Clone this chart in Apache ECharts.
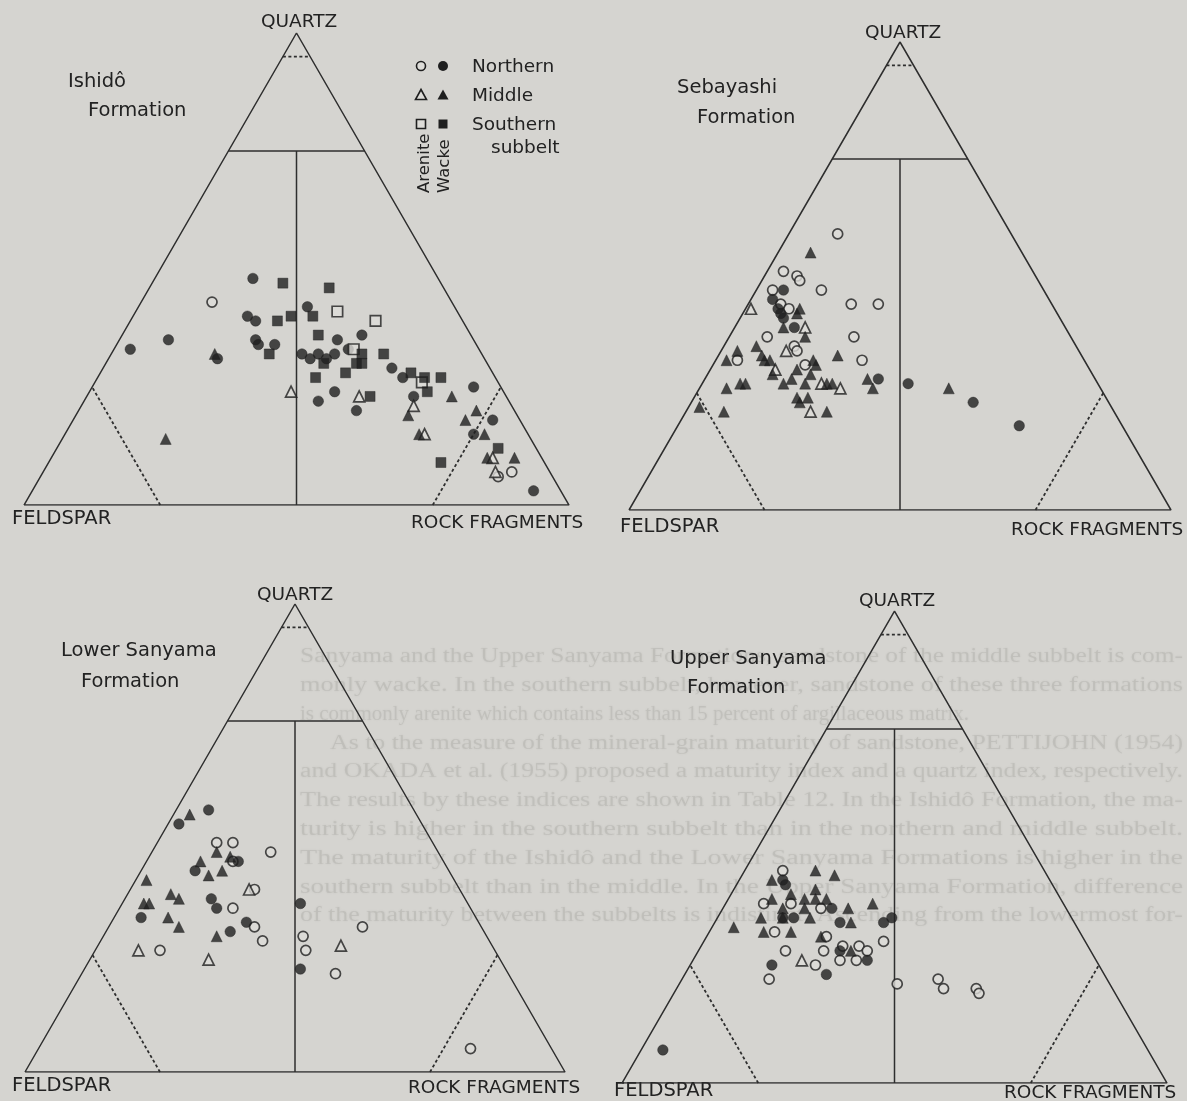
<!DOCTYPE html>
<html><head><meta charset="utf-8">
<script src="https://cdn.jsdelivr.net/npm/echarts@6/dist/echarts.min.js"></script>
<style>html,body{margin:0;padding:0;background:#d5d4d0}#c{width:1187px;height:1101px}</style>
</head><body><div id="c"></div><script>
// Each point: [Quartz %, Rock fragments %]; Feldspar % = 100 - Q - R
const ishidoNorthArenite = [[43,13],[6,84],[7,86]];
const ishidoNorthWacke = [[48,18],[42,31],[40,21],[39,23],[33,3],[35,9],[31,20],[35,25],[34,26],[34,29],[35,40],[36,44],[32,35],[31,37],[32,38],[31,40],[32,41],[33,43],[24,45],[22,43],[20,51],[29,53],[27,56],[25,70],[18,77],[15,75],[3,92],[23,60]];
const ishidoMiddleArenite = [[24,37],[23,50],[21,61],[15,66],[10,81],[7,83]];
const ishidoMiddleWacke = [[32,19],[14,19],[19,61],[23,67],[20,73],[18,72],[15,77],[15,65],[10,85],[10,80]];
const ishidoSouthArenite = [[41,37],[39,45],[33,44],[26,60]];
const ishidoSouthWacke = [[47,24],[46,33],[40,33],[39,27],[40,29],[32,29],[36,36],[30,40],[27,40],[28,45],[30,46],[30,47],[32,46],[32,50],[28,57],[27,60],[27,63],[24,62],[23,52],[12,81],[9,72]];

const sebaNorthArenite = [[59,9],[51,3],[50,6],[49,7],[47,3],[47,12],[44,19],[44,24],[44,6],[43,8],[37,7],[37,23],[35,13],[34,14],[32,4],[31,17],[32,27]];
const sebaNorthWacke = [[47,5],[45,4],[42,7],[41,8],[39,11],[43,6],[28,32],[27,38],[23,52],[18,63]];
const sebaMiddleArenite = [[43,1],[39,13],[34,12],[30,12],[27,22],[26,26],[21,23]];
const sebaMiddleWacke = [[55,6],[43,10],[42,10],[39,9],[37,14],[33,22],[34,3],[32,2],[35,6],[33,8],[32,9],[32,10],[32,18],[31,19],[30,16],[29,19],[29,12],[28,16],[27,15],[27,19],[26,5],[27,7],[27,8],[27,23],[27,24],[28,30],[26,32],[24,19],[23,20],[24,21],[22,2],[21,7],[21,26],[26,46]];

const lowerNorthArenite = [[49,11],[49,14],[47,22],[45,16],[39,23],[35,21],[31,47],[29,37],[26,39],[21,47],[5,80],[31,27],[28,30],[26,12]];
const lowerNorthWacke = [[56,6],[53,2],[43,10],[45,17],[37,16],[35,18],[36,33],[22,40],[32,25],[30,23],[33,5]];
const lowerMiddleArenite = [[39,22],[27,45],[26,8],[24,22]];
const lowerMiddleWacke = [[55,3],[47,12],[46,15],[45,10],[42,13],[43,15],[41,2],[38,8],[37,10],[36,4],[36,5],[33,10],[31,13],[29,21]];

const upperNorthArenite = [[45,7],[38,7],[38,12],[37,18],[32,12],[31,22],[30,33],[28,16],[28,23],[29,26],[29,29],[28,31],[26,27],[26,30],[25,23],[22,16],[21,40],[22,47],[20,49],[20,55],[19,56]];
const upperNorthWacke = [[43,8],[42,9],[35,14],[35,12],[37,20],[34,23],[34,31],[35,32],[28,26],[26,32],[25,15],[23,26],[7,4]];
const upperMiddleArenite = [[26,20]];
const upperMiddleWacke = [[43,6],[45,13],[44,17],[40,11],[41,15],[39,16],[39,18],[39,8],[39,14],[37,15],[37,23],[38,27],[37,11],[35,8],[35,12],[35,17],[34,25],[33,4],[32,10],[32,15],[31,21],[28,28]];

const formationNames = [['Ishidô','Formation'],['Sebayashi','Formation'],['Lower Sanyama','Formation'],['Upper Sanyama','Formation']];
const apexLabel = 'QUARTZ', leftLabel = 'FELDSPAR', rightLabel = 'ROCK FRAGMENTS';
const legendRows = ['Northern','Middle','Southern'];
// faint text of the page showing through the paper
const pageText = [
  'Sanyama and the Upper Sanyama Formations, sandstone of the middle subbelt is com-',
  'monly wacke. In the southern subbelt, however, sandstone of these three formations',
  'is commonly arenite which contains less than 15 percent of argillaceous matrix.',
  'As to the measure of the mineral-grain maturity of sandstone, PETTIJOHN (1954)',
  'and OKADA et al. (1955) proposed a maturity index and a quartz index, respectively.',
  'The results by these indices are shown in Table 12. In the Ishidô Formation, the ma-',
  'turity is higher in the southern subbelt than in the northern and middle subbelt.',
  'The maturity of the Ishidô and the Lower Sanyama Formations is higher in the',
  'southern subbelt than in the middle. In the Upper Sanyama Formation, difference',
  'of the maturity between the subbelts is indistinct. Ascending from the lowermost for-'
];

// ----- styling / layout -----
const BG = '#d5d4d0', INK = '#1f1f1f', LINE = '#2e2e2e', OF = '#dddcd8';
const FONT = '"DejaVu Sans", sans-serif';
const panels = [
  {left:24, top:33, width:545, height:472},
  {left:629, top:42, width:542, height:468},
  {left:25, top:604, width:540, height:468},
  {left:622, top:611, width:545, height:472}
];
const datasets = [
  {na:ishidoNorthArenite, nw:ishidoNorthWacke, ma:ishidoMiddleArenite, mw:ishidoMiddleWacke, sa:ishidoSouthArenite, sw:ishidoSouthWacke},
  {na:sebaNorthArenite, nw:sebaNorthWacke, ma:sebaMiddleArenite, mw:sebaMiddleWacke},
  {na:lowerNorthArenite, nw:lowerNorthWacke, ma:lowerMiddleArenite, mw:lowerMiddleWacke},
  {na:upperNorthArenite, nw:upperNorthWacke, ma:upperMiddleArenite, mw:upperMiddleWacke}
];
const toXY = ([q, r]) => [r + q / 2, q];
const symStyle = {
  na:{symbol:'circle', size:10, open:true},
  nw:{symbol:'circle', size:10.5, open:false},
  ma:{symbol:'triangle', size:11, open:true},
  mw:{symbol:'triangle', size:11, open:false},
  sa:{symbol:'rect', size:10.5, open:true},
  sw:{symbol:'rect', size:10, open:false}
};

const grid = [], xAxis = [], yAxis = [], series = [], graphic = [];
panels.forEach((p, i) => {
  grid.push({left:p.left, top:p.top, width:p.width, height:p.height});
  xAxis.push({type:'value', gridIndex:i, min:0, max:100, show:false});
  yAxis.push({type:'value', gridIndex:i, min:0, max:100, show:false});
  const seg = (pts, dashed) => series.push({
    type:'line', xAxisIndex:i, yAxisIndex:i, data:pts.map(toXY), showSymbol:false, silent:true,
    lineStyle:{color:LINE, width:dashed?1.8:1.5, type:dashed?[3,2.5]:'solid'}, z:2
  });
  seg([[0,0],[0,100],[100,0],[0,0]], false);   // outline F -> R -> Q -> F
  seg([[75,0],[75,25]], false);                  // Q = 75 %
  seg([[75,12.5],[0,50]], false);                // F:R = 1:1
  seg([[95,0],[95,5]], true);                    // Q = 95 %
  seg([[0,25],[25,0]], true);                    // F = 75 %
  seg([[0,75],[25,75]], true);                   // R = 75 %
  const d = datasets[i];
  Object.keys(d).forEach(k => {
    const s = symStyle[k];
    series.push({
      type:'scatter', xAxisIndex:i, yAxisIndex:i, data:d[k].map(toXY), symbol:s.symbol, symbolSize:s.size, z:3,
      itemStyle: s.open ? {color:OF, borderColor:INK, borderWidth:1.7} : {color:INK, borderColor:INK, borderWidth:0.5}
    });
  });
});

// background page text, stretched to the justified line width
const meas = document.createElement('canvas').getContext('2d');
const PFONT = '20px "Liberation Serif", serif';
meas.font = PFONT;
const lineSpecs = [[300,1183],[300,1183],[300,null],[330,1183],[300,1183],[300,1183],[300,1183],[300,1183],[300,1183],[300,1183]];
pageText.forEach((t, i) => {
  const [x0, x1] = lineSpecs[i];
  const w = meas.measureText(t).width;
  graphic.push({type:'text', x:x0, y:657 + i * 28.8, scaleX:x1 ? (x1 - x0) / w : 1.05, silent:true, z:-10,
    style:{text:t, font:PFONT, fill:'rgba(70,65,60,0.10)', textShadowColor:'rgba(70,65,60,0.6)', textShadowBlur:2.5,
      align:'left', verticalAlign:'middle'}});
});

const txt = (text, x, y, size, align) => graphic.push({type:'text', x, y, silent:true,
  style:{text, font:`${size}px ${FONT}`, fill:'#222', align:align||'left', verticalAlign:'middle'}});

// axis corner labels
const cornerLabels = [
  {q:[299,22], f:[12,519], r:[411,523]},
  {q:[903,33], f:[620,527], r:[1011,530]},
  {q:[295,595], f:[12,1086], r:[408,1088]},
  {q:[897,601], f:[614,1091], r:[1004,1093]}
];
cornerLabels.forEach(c => {
  txt(apexLabel, c.q[0], c.q[1], 18.5, 'center');
  txt(leftLabel, c.f[0], c.f[1], 19.5);
  txt(rightLabel, c.r[0], c.r[1], 18.5);
});
// formation titles
const titlePos = [[[68,82],[88,111]],[[677,88],[697,118]],[[61,651],[81,682]],[[670,659],[687,688]]];
formationNames.forEach((n, i) => { txt(n[0], titlePos[i][0][0], titlePos[i][0][1], 19.5); txt(n[1], titlePos[i][1][0], titlePos[i][1][1], 19.5); });

// legend (Ishidô panel)
const ly = [66, 95, 124];
const openS = {fill:OF, stroke:INK, lineWidth:1.6}, fillS = {fill:INK};
graphic.push({type:'circle', shape:{cx:421, cy:ly[0], r:4.5}, style:openS});
graphic.push({type:'circle', shape:{cx:443, cy:ly[0], r:5}, style:fillS});
graphic.push({type:'polygon', shape:{points:[[421,ly[1]-5.5],[426.5,ly[1]+4.5],[415.5,ly[1]+4.5]]}, style:openS});
graphic.push({type:'polygon', shape:{points:[[443,ly[1]-5.5],[448.5,ly[1]+4.5],[437.5,ly[1]+4.5]]}, style:fillS});
graphic.push({type:'rect', shape:{x:416.5, y:ly[2]-4.5, width:9, height:9}, style:openS});
graphic.push({type:'rect', shape:{x:438.5, y:ly[2]-4.5, width:9, height:9}, style:fillS});
legendRows.forEach((t, i) => txt(t, 472, ly[i]+1, 18.5));
txt('subbelt', 491, 148, 18.5);
graphic.push({type:'text', x:425, y:193, rotation:Math.PI/2, silent:true, style:{text:'Arenite', font:`16.5px ${FONT}`, fill:'#222', align:'left', verticalAlign:'middle'}});
graphic.push({type:'text', x:445, y:193, rotation:Math.PI/2, silent:true, style:{text:'Wacke', font:`16.5px ${FONT}`, fill:'#222', align:'left', verticalAlign:'middle'}});

const chart = echarts.init(document.getElementById('c'));
chart.setOption({backgroundColor:BG, animation:false, grid, xAxis, yAxis, series, graphic});
</script></body></html>
